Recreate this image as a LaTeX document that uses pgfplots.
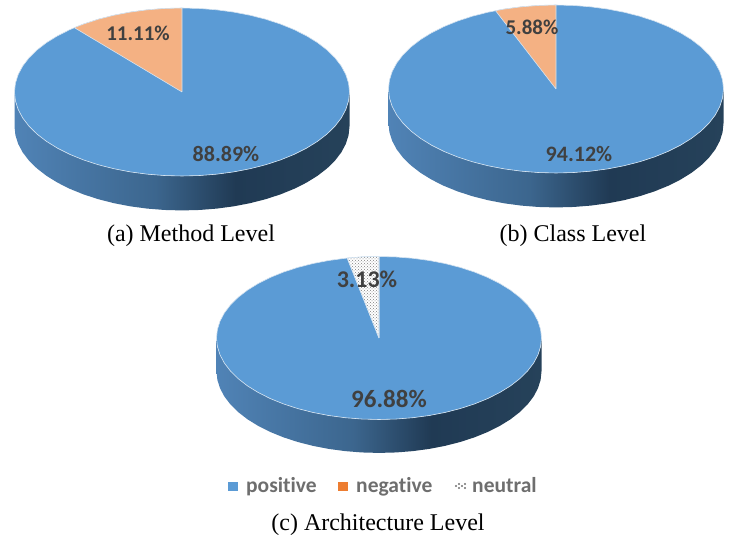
\documentclass[border=0pt]{standalone}
\usepackage{fontspec}
\setmainfont{Liberation Serif}
\newfontfamily\labelfont[Ligatures=NoCommon]{Carlito}
\usepackage{pgfplots}
\pgfplotsset{compat=1.18}
\usepackage{pgfplotstable}
\usetikzlibrary{patterns}

\definecolor{pieblue}{RGB}{91,155,213}
\definecolor{pieedge}{RGB}{214,228,241}
\definecolor{pieorange}{RGB}{244,177,131}
\definecolor{legorange}{RGB}{237,125,49}
\definecolor{labelgray}{RGB}{64,64,64}
\definecolor{leggray}{RGB}{110,110,110}

\pgfdeclarehorizontalshading{pieside}{100bp}{
color(0bp)=(rgb,255:red,80;green,131;blue,182);
color(25bp)=(rgb,255:red,80;green,131;blue,182);
color(46bp)=(rgb,255:red,60;green,102;blue,142);
color(58bp)=(rgb,255:red,32;green,58;blue,84);
color(75bp)=(rgb,255:red,38;green,66;blue,90);
color(100bp)=(rgb,255:red,38;green,66;blue,90)}

% unit circle, every 6 degrees
\pgfplotstableread{
x y
1 0
.9945 .1045
.9781 .2079
.9511 .3090
.9135 .4067
.8660 .5
.8090 .5878
.7431 .6691
.6691 .7431
.5878 .8090
.5 .8660
.4067 .9135
.3090 .9511
.2079 .9781
.1045 .9945
0 1
-.1045 .9945
-.2079 .9781
-.3090 .9511
-.4067 .9135
-.5 .8660
-.5878 .8090
-.6691 .7431
-.7431 .6691
-.8090 .5878
-.8660 .5
-.9135 .4067
-.9511 .3090
-.9781 .2079
-.9945 .1045
-1 0
-.9945 -.1045
-.9781 -.2079
-.9511 -.3090
-.9135 -.4067
-.8660 -.5
-.8090 -.5878
-.7431 -.6691
-.6691 -.7431
-.5878 -.8090
-.5 -.8660
-.4067 -.9135
-.3090 -.9511
-.2079 -.9781
-.1045 -.9945
0 -1
.1045 -.9945
.2079 -.9781
.3090 -.9511
.4067 -.9135
.5 -.8660
.5878 -.8090
.6691 -.7431
.7431 -.6691
.8090 -.5878
.8660 -.5
.9135 -.4067
.9511 -.3090
.9781 -.2079
.9945 -.1045
1 0
}\disk

% rim of the pie: front half of the circle and the same half lower down
\pgfplotstableread{
x y
-1 0
-.9945 -.1045
-.9781 -.2079
-.9511 -.3090
-.9135 -.4067
-.8660 -.5
-.8090 -.5878
-.7431 -.6691
-.6691 -.7431
-.5878 -.8090
-.5 -.8660
-.4067 -.9135
-.3090 -.9511
-.2079 -.9781
-.1045 -.9945
0 -1
.1045 -.9945
.2079 -.9781
.3090 -.9511
.4067 -.9135
.5 -.8660
.5878 -.8090
.6691 -.7431
.7431 -.6691
.8090 -.5878
.8660 -.5
.9135 -.4067
.9511 -.3090
.9781 -.2079
.9945 -.1045
1 0
1 -.41
.9945 -.5145
.9781 -.6179
.9511 -.7190
.9135 -.8167
.8660 -.91
.8090 -.9978
.7431 -1.0791
.6691 -1.1531
.5878 -1.2190
.5 -1.2760
.4067 -1.3235
.3090 -1.3611
.2079 -1.3881
.1045 -1.4045
0 -1.41
-.1045 -1.4045
-.2079 -1.3881
-.3090 -1.3611
-.4067 -1.3235
-.5 -1.2760
-.5878 -1.2190
-.6691 -1.1531
-.7431 -1.0791
-.8090 -.9978
-.8660 -.91
-.9135 -.8167
-.9511 -.7190
-.9781 -.6179
-.9945 -.5145
-1 -.41
-1 0
}\rim

\pgfplotsset{
pie/.style={
  hide axis, scale only axis, clip=false, anchor=center,
  xmin=-1, xmax=1, ymin=-1, ymax=1},
slice/.style={draw=pieedge, line width=0.6pt, line join=round},
}

\begin{document}
\begin{tikzpicture}[x=1pt,y=1pt]
\useasboundingbox (0,0) rectangle (729,535);

% (a) method level
\begin{axis}[pie, at={(182pt,443pt)}, width=335pt, height=168pt]
\addplot[draw=none, shading=pieside] table {\rim};
\addplot[slice, fill=pieblue] table {\disk};
\addplot[slice, fill=pieorange] coordinates {
(0,0) (0,1) (-.1045,.9945) (-.2079,.9781) (-.3090,.9511) (-.4067,.9135)
(-.5,.8660) (-.5878,.8090) (-.6428,.7660) (0,0)};
\end{axis}

% (b) class level
\begin{axis}[pie, at={(556pt,446pt)}, width=335pt, height=168pt]
\addplot[draw=none, shading=pieside] table {\rim};
\addplot[slice, fill=pieblue] table {\disk};
\addplot[slice, fill=pieorange] coordinates {
(0,0) (0,1) (-.1045,.9945) (-.2079,.9781) (-.3090,.9511) (-.3611,.9325) (0,0)};
\end{axis}

% (c) architecture level
\begin{axis}[pie, at={(379pt,197pt)}, width=325pt, height=163pt]
\addplot[draw=none, shading=pieside] table {\rim};
\addplot[slice, fill=pieblue] table {\disk};
\addplot[slice, fill=white, postaction={pattern=crosshatch dots, pattern color=gray}] coordinates {
(0,0) (0,1) (-.1045,.9945) (-.1954,.9807) (0,0)};
\end{axis}

% texts and legend, in pixels of the reference
\begin{axis}[hide axis, scale only axis, clip=false, anchor=south west, at={(0pt,0pt)},
  width=729pt, height=535pt, xmin=0, xmax=729, ymin=0, ymax=535, y dir=reverse]
\addplot[only marks, mark=square*, mark size=4.3pt, color=pieblue] coordinates {(232.5,486)};
\addplot[only marks, mark=square*, mark size=4.3pt, color=legorange] coordinates {(342.5,486)};
\addplot[only marks, mark=*, mark size=0.8pt, color=gray] coordinates {
(456,486) (459,484) (459,488) (462,486) (465,484) (465,488)};

\node[font=\labelfont\fontsize{21}{24}\selectfont\bfseries, text=labelgray] at (axis cs:138,33) {11.11\%};
\node[font=\labelfont\fontsize{22}{24}\selectfont\bfseries, text=labelgray] at (axis cs:226,154) {88.89\%};
\node[font=\labelfont\fontsize{21}{24}\selectfont\bfseries, text=labelgray] at (axis cs:532,27) {5.88\%};
\node[font=\labelfont\fontsize{22}{24}\selectfont\bfseries, text=labelgray] at (axis cs:579,154) {94.12\%};
\node[font=\labelfont\fontsize{24}{26}\selectfont\bfseries, text=labelgray] at (axis cs:367,279) {3.13\%};
\node[font=\labelfont\fontsize{25}{27}\selectfont\bfseries, text=labelgray] at (axis cs:389,399) {96.88\%};

\node[font=\labelfont\fontsize{21.5}{24}\selectfont\bfseries, text=leggray, anchor=base west, inner sep=0pt] at (axis cs:246,492) {positive};
\node[font=\labelfont\fontsize{21.5}{24}\selectfont\bfseries, text=leggray, anchor=base west, inner sep=0pt] at (axis cs:356,492) {negative};
\node[font=\labelfont\fontsize{21.5}{24}\selectfont\bfseries, text=leggray, anchor=base west, inner sep=0pt] at (axis cs:472,492) {neutral};

\node[font=\fontsize{24}{26}\selectfont, anchor=base] at (axis cs:191,241) {(a) Method Level};
\node[font=\fontsize{24}{26}\selectfont, anchor=base] at (axis cs:573,241) {(b) Class Level};
\node[font=\fontsize{24}{26}\selectfont, anchor=base] at (axis cs:378,530) {(c) Architecture Level};
\end{axis}

\end{tikzpicture}
\end{document}
